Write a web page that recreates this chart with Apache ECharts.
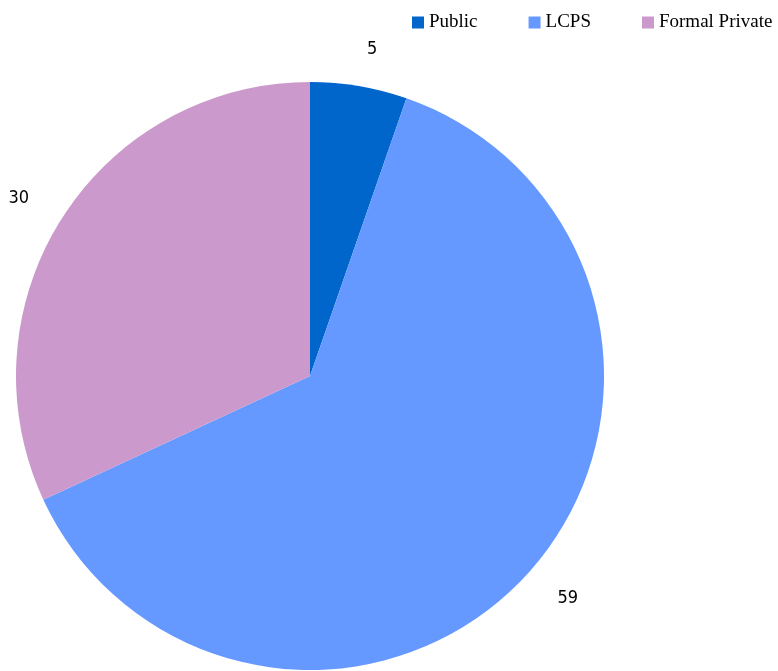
<!DOCTYPE html>
<html>
<head>
<meta charset="utf-8">
<title>School type shares</title>
<script src="https://cdn.jsdelivr.net/npm/echarts@6/dist/echarts.min.js"></script>
<style>
  html, body { margin: 0; padding: 0; background: #ffffff; }
  #chart { width: 778px; height: 671px; }
</style>
</head>
<body>
<div id="chart"></div>
<script>
// Share of schools by type
const categories = ['Public', 'LCPS', 'Formal Private'];
const values = [5, 59, 30];
const colors = ['#0066CC', '#6699FF', '#CC99CC'];

const chart = echarts.init(document.getElementById('chart'), null, { renderer: 'canvas' });

const data = categories.map((name, i) => ({
  name: name,
  value: values[i],
  itemStyle: { color: colors[i] }
}));

chart.setOption({
  animation: false,
  backgroundColor: '#ffffff',
  legend: {
    data: categories,
    left: 407,
    top: 8,
    icon: 'rect',
    itemWidth: 12,
    itemHeight: 12,
    itemGap: 51,
    textStyle: {
      fontFamily: "'Liberation Serif', 'Times New Roman', serif",
      fontSize: 19,
      color: '#000000'
    }
  },
  series: [{
    type: 'pie',
    center: [310, 376],
    radius: [0, 294],
    startAngle: 90,
    clockwise: true,
    avoidLabelOverlap: false,
    data: data,
    label: {
      show: true,
      position: 'outside',
      alignTo: 'none',
      formatter: '{c}',
      distanceToLabelLine: 2,
      fontFamily: "'Liberation Sans Narrow', 'DejaVu Sans Condensed', 'Liberation Sans', sans-serif",
      fontSize: 18,
      color: '#000000'
    },
    labelLine: {
      show: false,
      length: 37,
      length2: 0
    },
    emphasis: { disabled: true }
  }]
});
</script>
</body>
</html>
